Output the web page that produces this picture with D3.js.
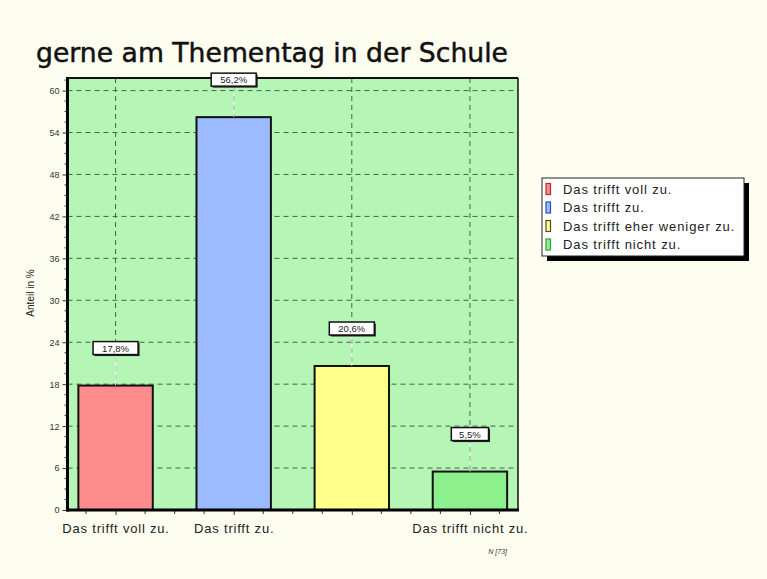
<!DOCTYPE html>
<html><head><meta charset="utf-8">
<script src="https://cdn.jsdelivr.net/npm/d3@7"></script>
<style>
html,body{margin:0;padding:0;background:#FEFEF0;}
svg{display:block;}
</style></head>
<body>
<script>
const titleText = "gerne am Thementag in der Schule";
const categories = ["Das trifft voll zu.", "Das trifft zu.", "Das trifft eher weniger zu.", "Das trifft nicht zu."];
const values = [17.8, 56.2, 20.6, 5.5];
const valueLabels = ["17,8%", "56,2%", "20,6%", "5,5%"];
const xTickLabels = ["Das trifft voll zu.", "Das trifft zu.", "", "Das trifft nicht zu."];
const yTicks = [0, 6, 12, 18, 24, 30, 36, 42, 48, 54, 60];
const yMax = 61.8;
const colors = ["#FF8C8C", "#9CBBFF", "#FFFF8C", "#8CF08C"];
const legendStroke = ["#B03030", "#3050B0", "#505010", "#30A040"];
const yAxisTitle = "Anteil in %";
const nText = "N [73]";

const W = 767, H = 579;
const svg = d3.select("body").append("svg").attr("width", W).attr("height", H);
svg.append("rect").attr("width", W).attr("height", H).attr("fill", "#FEFEF0");

const L = 67.5, R = 518, T = 78, B = 510;
const x = d3.scalePoint().domain(categories).range([L, R]).padding(0.407);
const y = d3.scaleLinear().domain([0, yMax]).range([B, T]);
const step = x.step();
const bw = step * 0.63;

// plot background
svg.append("rect").attr("x", L).attr("y", T).attr("width", R - L).attr("height", B - T)
  .attr("fill", "#B5F5B5");

// grid
const gridC = "#43654A";
svg.append("g").selectAll("line").data(yTicks.filter(d => d > 0)).join("line")
  .attr("x1", L).attr("x2", R).attr("y1", d => y(d)).attr("y2", d => y(d))
  .attr("stroke", gridC).attr("stroke-width", 1).attr("stroke-dasharray", "5,4");
svg.append("g").selectAll("line").data(categories).join("line")
  .attr("x1", d => x(d)).attr("x2", d => x(d)).attr("y1", T).attr("y2", B)
  .attr("stroke", gridC).attr("stroke-width", 1).attr("stroke-dasharray", "5,4");

// plot border top/right
svg.append("line").attr("x1", L).attr("x2", R).attr("y1", T).attr("y2", T).attr("stroke", "#111").attr("stroke-width", 2);
svg.append("line").attr("x1", R).attr("x2", R).attr("y1", T).attr("y2", B).attr("stroke", "#111").attr("stroke-width", 1.5);

// bars
svg.append("g").selectAll("rect").data(values).join("rect")
  .attr("x", (d, i) => x(categories[i]) - bw / 2)
  .attr("y", d => y(d))
  .attr("width", bw)
  .attr("height", d => B - y(d))
  .attr("fill", (d, i) => colors[i])
  .attr("stroke", "#111").attr("stroke-width", 2);

// y axis
const yAxis = d3.axisLeft(y).tickValues(yTicks).tickSize(5).tickPadding(3).tickFormat(d3.format("d"));
const gy = svg.append("g").attr("transform", `translate(${L},0)`).call(yAxis);
gy.select(".domain").remove();
gy.selectAll(".tick line").attr("stroke", "#333");
gy.selectAll(".tick text").attr("font-family", "Liberation Sans, Arial, sans-serif").attr("font-size", 9).attr("fill", "#333");
const minorY = d3.range(0, yMax, 1.5).filter(v => v % 6 !== 0);
svg.append("g").selectAll("line").data(minorY).join("line")
  .attr("x1", L - 3).attr("x2", L).attr("y1", d => y(d)).attr("y2", d => y(d))
  .attr("stroke", "#333").attr("stroke-width", 1);

// x axis
const xAxis = d3.axisBottom(x).tickSize(5).tickPadding(9).tickFormat((d, i) => xTickLabels[i]);
const gx = svg.append("g").attr("transform", `translate(0,${B})`).call(xAxis);
gx.select(".domain").remove();
gx.selectAll(".tick line").attr("stroke", "#333");
gx.selectAll(".tick text").attr("font-family", "Liberation Sans, Arial, sans-serif").attr("font-size", 13)
  .attr("letter-spacing", 0.8).attr("fill", "#222");
const minorX = [];
categories.forEach(c => { minorX.push(x(c) - step / 4); minorX.push(x(c) + step / 4); minorX.push(x(c) + step / 2); });
svg.append("g").selectAll("line").data(minorX.filter(v => v > L && v < R)).join("line")
  .attr("x1", d => d).attr("x2", d => d).attr("y1", B).attr("y2", B + 4)
  .attr("stroke", "#333").attr("stroke-width", 1);

// axis lines
svg.append("line").attr("x1", L).attr("x2", L).attr("y1", T - 1).attr("y2", B + 1.5).attr("stroke", "#000").attr("stroke-width", 3);
svg.append("line").attr("x1", L - 1.5).attr("x2", R + 1).attr("y1", B).attr("y2", B).attr("stroke", "#000").attr("stroke-width", 3);

// value labels
const halfW = s => s.length * 3.9 + 3;
const lab = svg.append("g").selectAll("g").data(values).join("g")
  .attr("transform", (d, i) => `translate(${x(categories[i])},${y(d) - 37})`);
lab.append("line").attr("x1", 0).attr("x2", 0).attr("y1", 6).attr("y2", 37)
  .attr("stroke", "#fff").attr("stroke-opacity", 0.75).attr("stroke-width", 1);
lab.append("rect").attr("x", (d, i) => -halfW(valueLabels[i]) + 1.5).attr("y", -5.5)
  .attr("width", (d, i) => 2 * halfW(valueLabels[i])).attr("height", 13)
  .attr("fill", "#222");
lab.append("rect").attr("x", (d, i) => -halfW(valueLabels[i])).attr("y", -7)
  .attr("width", (d, i) => 2 * halfW(valueLabels[i])).attr("height", 13)
  .attr("fill", "#fff").attr("stroke", "#111").attr("stroke-width", 1.5);
lab.append("text").attr("text-anchor", "middle").attr("y", 3)
  .attr("font-family", "Liberation Sans, Arial, sans-serif").attr("font-size", 9.5).attr("fill", "#222")
  .text((d, i) => valueLabels[i]);

// title
svg.append("text").attr("x", 36).attr("y", 62).attr("font-family", "DejaVu Sans, sans-serif")
  .attr("font-size", 27).attr("fill", "#111").attr("stroke", "#111").attr("stroke-width", 0.5)
  .attr("textLength", 472).attr("lengthAdjust", "spacingAndGlyphs")
  .text(titleText);

// y axis title
svg.append("text").attr("transform", "translate(34,293) rotate(-90)").attr("text-anchor", "middle")
  .attr("font-family", "Liberation Sans, Arial, sans-serif").attr("font-size", 10).attr("fill", "#222")
  .text(yAxisTitle);

// N text
svg.append("text").attr("x", 507).attr("y", 554).attr("text-anchor", "end")
  .attr("font-family", "Liberation Sans, Arial, sans-serif").attr("font-size", 7).attr("font-style", "italic").attr("fill", "#333")
  .text(nText);

// legend
const lgX = 542, lgY = 178, lgW = 202, lgH = 78;
svg.append("rect").attr("x", lgX + 5).attr("y", lgY + 5).attr("width", lgW).attr("height", lgH).attr("fill", "#000");
svg.append("rect").attr("x", lgX).attr("y", lgY).attr("width", lgW).attr("height", lgH).attr("fill", "#fff").attr("stroke", "#222").attr("stroke-width", 1);
const lg = svg.append("g").selectAll("g").data(categories).join("g")
  .attr("transform", (d, i) => `translate(${lgX + 4},${lgY + 11 + i * 18.5})`);
lg.append("rect").attr("x", 0).attr("y", -5.5).attr("width", 4.5).attr("height", 11)
  .attr("fill", (d, i) => colors[i]).attr("stroke", (d, i) => legendStroke[i]).attr("stroke-width", 1.2);
lg.append("text").attr("x", 17).attr("y", 4.5)
  .attr("font-family", "Liberation Sans, Arial, sans-serif").attr("font-size", 13).attr("letter-spacing", 0.9).attr("fill", "#222")
  .text(d => d);
</script>
</body></html>
